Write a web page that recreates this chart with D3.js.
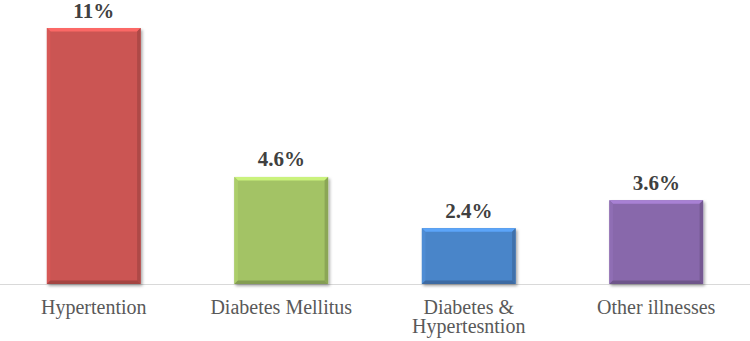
<!DOCTYPE html>
<html>
<head>
<meta charset="utf-8">
<script src="https://cdn.jsdelivr.net/npm/d3@7"></script>
<style>
  body { margin: 0; background: #fff; }
  svg { display: block; }
</style>
</head>
<body>
<script>
const categories = ['Hypertention', 'Diabetes Mellitus', 'Diabetes & Hypertesntion', 'Other illnesses']
const catLines = [['Hypertention'], ['Diabetes Mellitus'], ['Diabetes &', 'Hypertesntion'], ['Other illnesses']]
const values = [11, 4.6, 2.4, 3.6]
const valueLabels = ['11%', '4.6%', '2.4%', '3.6%']
const colors = ['#cb5452', '#a3c365', '#4a85c9', '#8868ab']

const width = 750
const height = 341
const baseY = 284

const svg = d3.select('body')
  .append('svg')
  .attr('width', width)
  .attr('height', height)

// drop shadow for the bevelled bars
const defs = svg.append('defs')
defs.append('filter')
  .attr('id', 'shadow')
  .attr('x', '-20%').attr('y', '-20%')
  .attr('width', '140%').attr('height', '140%')
  .append('feDropShadow')
  .attr('dx', 1.5).attr('dy', 2)
  .attr('stdDeviation', 1.5)
  .attr('flood-color', '#000')
  .attr('flood-opacity', 0.35)

const x = d3.scaleBand()
  .domain(categories)
  .range([0, width])
  .paddingInner(0.5)
  .paddingOuter(0.25)

const y = d3.scaleLinear()
  .domain([0, 11])
  .range([baseY, 28])

// axis line
svg.append('line')
  .attr('x1', 0).attr('x2', width)
  .attr('y1', baseY + 0.5).attr('y2', baseY + 0.5)
  .attr('stroke', '#d9d9d9')
  .attr('stroke-width', 1)

const bars = svg.append('g')
  .selectAll('g')
  .data(values)
  .join('g')
  .attr('filter', 'url(#shadow)')

const b = 3.5
bars.each(function (d, i) {
  const g = d3.select(this)
  const x0 = x(categories[i])
  const x1 = x0 + x.bandwidth()
  const y0 = y(d)
  const y1 = y(0)
  const c = d3.color(colors[i])
  g.append('rect')
    .attr('x', x0).attr('y', y0)
    .attr('width', x1 - x0).attr('height', y1 - y0)
    .attr('fill', c)
  // top bevel
  g.append('polygon')
    .attr('points', [[x0, y0], [x1, y0], [x1 - b, y0 + b], [x0 + b, y0 + b]].join(' '))
    .attr('fill', c.brighter(0.6))
  // left
  g.append('polygon')
    .attr('points', [[x0, y0], [x0 + b, y0 + b], [x0 + b, y1 - b], [x0, y1]].join(' '))
    .attr('fill', c.brighter(0.15))
  // right
  g.append('polygon')
    .attr('points', [[x1, y0], [x1 - b, y0 + b], [x1 - b, y1 - b], [x1, y1]].join(' '))
    .attr('fill', c.darker(0.45))
  // bottom
  g.append('polygon')
    .attr('points', [[x0, y1], [x0 + b, y1 - b], [x1 - b, y1 - b], [x1, y1]].join(' '))
    .attr('fill', c.darker(0.6))
})

// value labels
svg.append('g')
  .selectAll('text')
  .data(values)
  .join('text')
  .attr('x', (d, i) => x(categories[i]) + x.bandwidth() / 2)
  .attr('y', d => y(d) - 10.5)
  .attr('text-anchor', 'middle')
  .attr('font-family', '"Liberation Serif", "Times New Roman", serif')
  .attr('font-weight', 'bold')
  .attr('font-size', '21px')
  .attr('fill', '#404040')
  .text((d, i) => valueLabels[i])

// category labels
const catText = svg.append('g')
  .selectAll('text')
  .data(categories)
  .join('text')
  .attr('x', d => x(d) + x.bandwidth() / 2)
  .attr('y', 314)
  .attr('text-anchor', 'middle')
  .attr('font-family', '"Liberation Serif", "Times New Roman", serif')
  .attr('font-size', '20px')
  .attr('fill', '#595959')

catText.selectAll('tspan')
  .data((d, i) => catLines[i])
  .join('tspan')
  .attr('x', function () { return d3.select(this.parentNode).attr('x') })
  .attr('dy', (d, j) => j === 0 ? 0 : 19)
  .text(d => d)
</script>
</body>
</html>
